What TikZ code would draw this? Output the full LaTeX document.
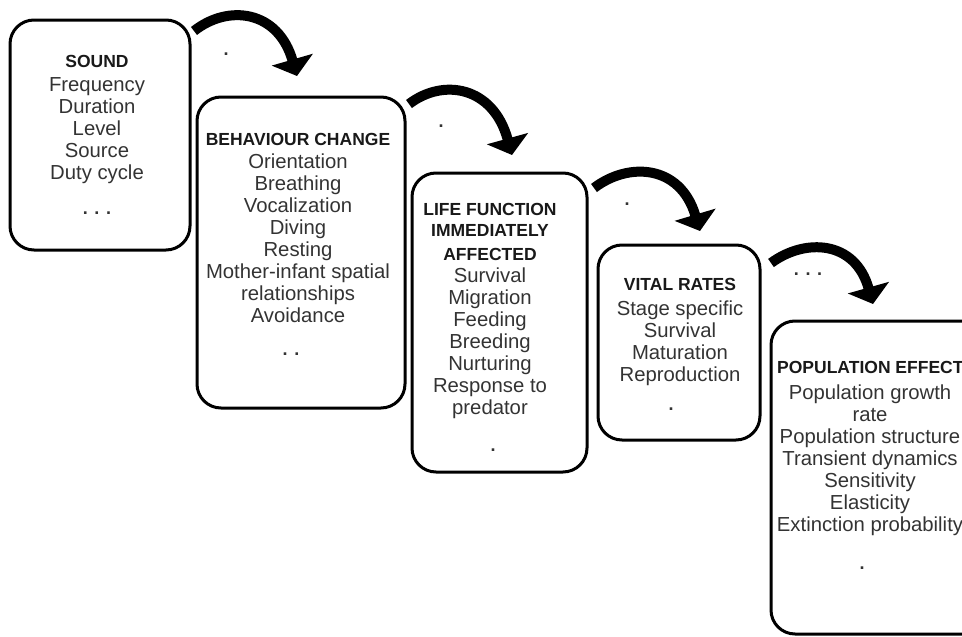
\documentclass[tikz,border=0pt]{standalone}
\usepackage{fontspec}
\setmainfont{Liberation Sans}
\usetikzlibrary{arrows.meta}
\definecolor{txt}{HTML}{333333}
\newcommand\ttlf{\color{black!90}\bfseries\fontsize{17.5}{22}\selectfont}
\begin{document}
\begin{tikzpicture}[x=1pt,y=-1pt,
  stagebox/.style={draw=black,line width=3pt,rounded corners=24pt},
  body/.style={anchor=north,align=center,text=txt,font=\fontsize{20.3}{22}\selectfont,inner sep=0pt},
  flow/.style={line width=10pt,-{Triangle[width=42pt,length=17pt]}},
  dot/.style={text=txt,font=\bfseries\fontsize{18}{18}\selectfont,inner sep=0pt}]
\useasboundingbox (0,0) rectangle (962,637);
\clip (0,0) rectangle (962,637);
% boxes
\draw[stagebox] (10,20) rectangle (190,250);
\node (b1) at (100,135) {};
\draw[stagebox] (197,97) rectangle (405,408);
\node (b2) at (301,252) {};
\draw[stagebox] (412,173) rectangle (587,472);
\node (b3) at (499,322) {};
\draw[stagebox] (598,245) rectangle (760,440);
\node (b4) at (679,342) {};
\draw[stagebox] (771,321) rectangle (1000,634);
\node (b5) at (880,477) {};
% texts
\node[body] (t1) at (97,55) {{\ttlf SOUND}\\[2pt]Frequency\\Duration\\Level\\Source\\Duty cycle};
\node[dot] (d1) at (97,213) {. . .};
\node[body] (t2) at (298,133) {{\ttlf BEHAVIOUR CHANGE}\\[1pt]Orientation\\Breathing\\Vocalization\\Diving\\Resting\\Mother-infant spatial\\relationships\\Avoidance};
\node[dot] (d2) at (291,354) {. .};
\node[body] (t3) at (490,203) {{\ttlf LIFE FUNCTION}\\[-1pt]{\ttlf IMMEDIATELY}\\[2pt]{\ttlf AFFECTED}\\Survival\\Migration\\Feeding\\Breeding\\Nurturing\\Response to\\predator};
\node[dot] (d3) at (493,450) {.};
\node[body] (t4) at (680,278) {{\ttlf VITAL RATES}\\[3pt]Stage specific\\Survival\\Maturation\\Reproduction};
\node[dot] (d4) at (671,409) {.};
\node[body,anchor=north west] (t5) at (777,361) {\ttlf POPULATION EFFECT};
\node[body] (t5b) at (870,385) {Population growth\\rate\\Population structure\\Transient dynamics\\Sensitivity\\Elasticity\\Extinction probability};
\node[dot] (d5) at (862,568) {.};
% arrows
\coordinate (s1) at (194,31); \coordinate (e1) at (297,76);
\coordinate (s2) at (409,104); \coordinate (e2) at (512,155);
\coordinate (s3) at (594,188); \coordinate (e3) at (700,231);
\coordinate (s4) at (771,263); \coordinate (e4) at (873,304);
\draw[flow] (s1) .. controls (228,4) and (278,10) .. (e1);
\draw[flow] (s2) .. controls (443,78) and (493,86) .. (e2);
\draw[flow] (s3) .. controls (628,162) and (680,164) .. (e3);
\draw[flow] (s4) .. controls (805,238) and (855,240) .. (e4);
\node[dot] (p1) at (226,54) {.};
\node[dot] (p2) at (441,126) {.};
\node[dot] (p3) at (627,204) {.};
\node[dot] (p4) at (808,274) {. . .};
\end{tikzpicture}
\end{document}
